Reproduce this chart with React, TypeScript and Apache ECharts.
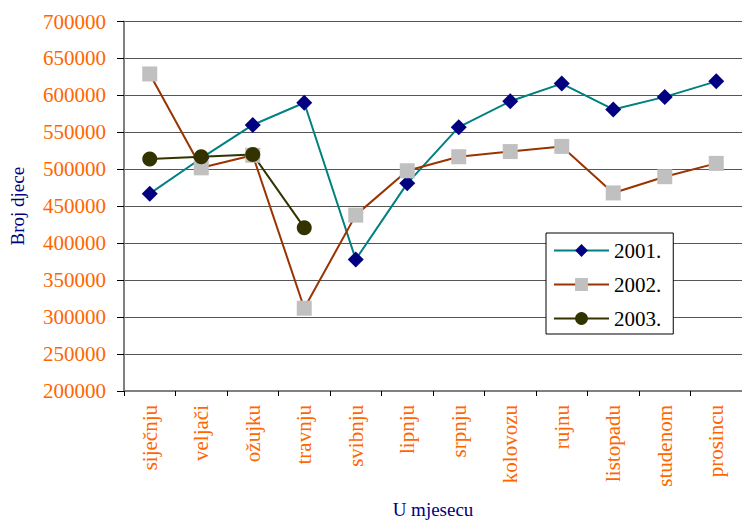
import React, { useEffect, useRef } from "react";
import * as echarts from "echarts";

const months = [
  "siječnju", "veljači", "ožujku", "travnju", "svibnju", "lipnju",
  "srpnju", "kolovozu", "rujnu", "listopadu", "studenom", "prosincu",
];
const y2001 = [467000, 515000, 560000, 590000, 378000, 481000, 557000, 592000, 616000, 581000, 598000, 619000];
const y2002 = [629000, 502000, 519000, 312000, 438000, 498000, 517000, 524000, 531000, 468000, 490000, 508000];
const y2003 = [514000, 517000, 520000, 421000];
const yTicks = { min: 200000, max: 700000, interval: 50000 };

const FONT = "Liberation Serif";

export default function App() {
  const ref = useRef<HTMLDivElement>(null);
  useEffect(() => {
    document.body.style.margin = "0";
    const chart = echarts.init(ref.current!, null, { renderer: "svg" });
    chart.setOption({
      animation: false,
      backgroundColor: "#fff",
      textStyle: { fontFamily: FONT },
      grid: { left: 124, top: 21.5, width: 629, height: 371.5 },
      legend: {
        orient: "vertical",
        left: 546,
        top: 233,
        padding: [7, 12, 5, 7],
        itemGap: 13,
        itemWidth: 55,
        itemHeight: 16,
        backgroundColor: "#fff",
        borderColor: "#000",
        borderWidth: 1,
        textStyle: { fontFamily: FONT, fontSize: 21, color: "#000" },
        data: ["2001.", "2002.", "2003."],
      },
      xAxis: {
        type: "category",
        data: months,
        boundaryGap: true,
        name: "U mjesecu",
        nameLocation: "middle",
        nameGap: 109,
        nameTextStyle: { fontFamily: FONT, fontSize: 19, color: "#000080" },
        axisLine: { lineStyle: { color: "#808080", width: 2 } },
        axisTick: { show: true, length: 5, lineStyle: { color: "#000" } },
        axisLabel: { rotate: 90, margin: 14, fontFamily: FONT, fontSize: 21, color: "#FF6600", interval: 0 },
        splitLine: { show: false },
      },
      yAxis: {
        type: "value",
        min: yTicks.min,
        max: yTicks.max,
        interval: yTicks.interval,
        name: "Broj djece",
        nameLocation: "middle",
        nameGap: 97,
        nameTextStyle: { fontFamily: FONT, fontSize: 19, color: "#000080" },
        axisLine: { show: true, lineStyle: { color: "#808080", width: 2 } },
        axisTick: { show: true, length: 7, lineStyle: { color: "#000" } },
        axisLabel: {
          margin: 18,
          fontFamily: FONT,
          fontSize: 21,
          color: "#FF6600",
          formatter: (v: number) => String(v),
        },
        splitLine: { show: true, lineStyle: { color: "#555", width: 1 } },
      },
      series: [
        {
          name: "2001.",
          type: "line",
          data: y2001,
          symbol: "diamond",
          symbolSize: 16,
          lineStyle: { color: "#008080", width: 2 },
          itemStyle: { color: "#000080" },
        },
        {
          name: "2002.",
          type: "line",
          data: y2002,
          symbol: "rect",
          symbolSize: 15,
          lineStyle: { color: "#993300", width: 2 },
          itemStyle: { color: "#C0C0C0" },
        },
        {
          name: "2003.",
          type: "line",
          data: y2003,
          symbol: "circle",
          symbolSize: 15,
          lineStyle: { color: "#333300", width: 2 },
          itemStyle: { color: "#333300" },
        },
      ],
    });
    return () => chart.dispose();
  }, []);
  return <div ref={ref} style={{ width: 742, height: 524 }} />;
}
